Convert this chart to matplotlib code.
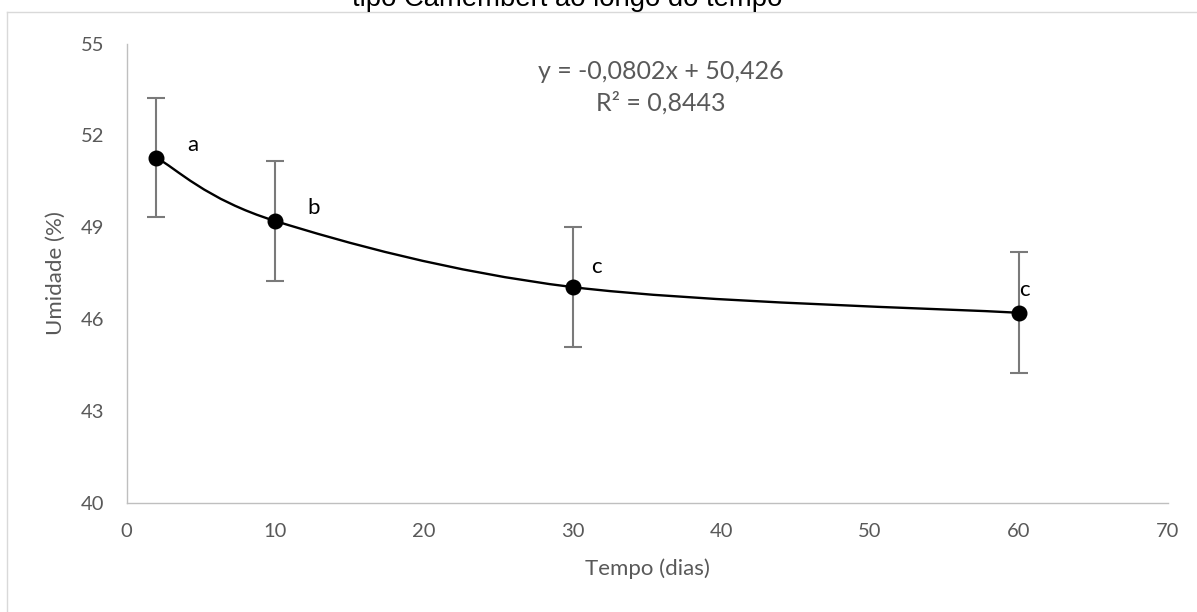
import numpy as np
import matplotlib
matplotlib.use("Agg")
import matplotlib.pyplot as plt
from matplotlib.path import Path
from matplotlib.patches import PathPatch
from matplotlib.lines import Line2D

# data
dias = [2, 10, 30, 60]
umidade = [51.27, 49.20, 47.04, 46.20]
erro = [1.95, 1.96, 1.97, 1.97]
letras = ["a", "b", "c", "c"]
# label offsets (pixels) relative to each point
letra_off = [(37, 13), (38, 13), (24, 20), (6, 23)]

xticks = [0, 10, 20, 30, 40, 50, 60, 70]
yticks = [40, 43, 46, 49, 52, 55]

eq_txt = "y = -0,0802x + 50,426"
r2_txt = "R² = 0,8443"
titulo = "tipo Camembert ao longo do tempo"

GRAY = "#595959"
AXIS = "#BFBFBF"

plt.rcParams["font.family"] = ["Lato", "DejaVu Sans"]

fig = plt.figure(figsize=(11.97, 6.12), dpi=100)
W, H = 1197.0, 612.0
ax = fig.add_axes([126.5 / W, (H - 502.5) / H, 1041 / W, 459 / H])

# error bars (behind the line)
ax.errorbar(dias, umidade, yerr=erro, fmt="none", ecolor="#7A7A7A",
            elinewidth=1.5, capsize=6.5, capthick=1.5, zorder=2)


def smooth_path(xs, ys):
    # Excel-style smoothed line: cubic Bezier, catmull-rom tangents
    p = np.column_stack([xs, ys]).astype(float)
    n = len(p)
    verts = [p[0]]
    codes = [Path.MOVETO]
    for i in range(n - 1):
        p0 = p[i - 1] if i > 0 else p[i]
        p3 = p[i + 2] if i + 2 < n else p[i + 1]
        c1 = p[i] + (p[i + 1] - p0) / 6.0
        c2 = p[i + 1] - (p3 - p[i]) / 6.0
        verts += [c1, c2, p[i + 1]]
        codes += [Path.CURVE4] * 3
    return Path(verts, codes)


ax.add_patch(PathPatch(smooth_path(dias, umidade), facecolor="none",
                       edgecolor="black", lw=1.7, zorder=3))
ax.plot(dias, umidade, "o", color="black", markersize=10.5, zorder=4)

for xv, yv, lt, off in zip(dias, umidade, letras, letra_off):
    ax.annotate(lt, (xv, yv), xytext=off, textcoords="offset pixels",
                ha="center", va="center", fontsize=16, color="black", zorder=5)

ax.text(0.5135, 0.9386, eq_txt, transform=ax.transAxes, ha="center",
        va="center", fontsize=18, color=GRAY)
ax.text(0.5135, 0.8704, r2_txt, transform=ax.transAxes, ha="center",
        va="center", fontsize=18, color=GRAY)

ax.set_xlim(0, 70)
ax.set_ylim(40, 55)
ax.set_xticks(xticks)
ax.set_yticks(yticks)
ax.tick_params(length=0, labelsize=14.5, labelcolor=GRAY)
ax.tick_params(axis="x", pad=15)
ax.tick_params(axis="y", pad=16)

for s in ["top", "right"]:
    ax.spines[s].set_visible(False)
for s in ["left", "bottom"]:
    ax.spines[s].set_color(AXIS)
    ax.spines[s].set_linewidth(1.0)

ax.set_xlabel("Tempo (dias)", fontsize=16, color=GRAY, labelpad=13)
ax.set_ylabel("Umidade (%)", fontsize=16, color=GRAY, labelpad=11)

# chart area border (top and left are visible in the crop)
fig.add_artist(Line2D([6.7 / W, 6.7 / W], [0, 1 - 11.7 / H],
                      transform=fig.transFigure, color="#D9D9D9", lw=1.0))
fig.add_artist(Line2D([6.7 / W, 1], [1 - 11.7 / H, 1 - 11.7 / H],
                      transform=fig.transFigure, color="#D9D9D9", lw=1.0))

fig.text(567 / W, 1 - 6.5 / H, titulo, ha="center", va="baseline",
         fontsize=19.8, family=["Liberation Sans", "DejaVu Sans"], color="black")

fig.savefig("out.png", dpi=100)
